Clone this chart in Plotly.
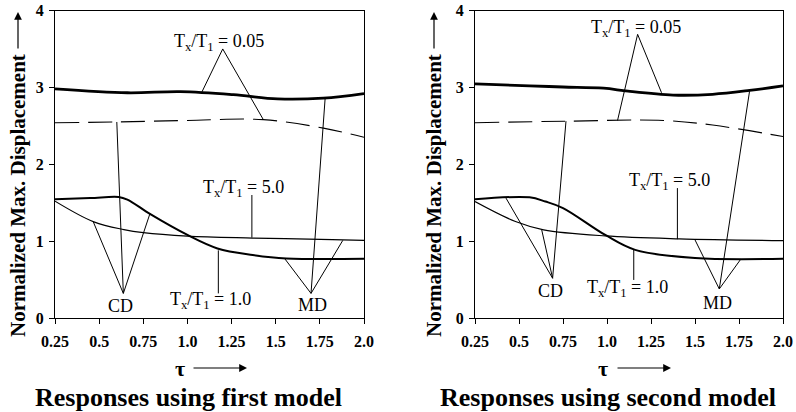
import plotly.graph_objects as go

# ---- response curves, first model ----
m1_x_top = [0.25, 0.66, 0.96, 1.26, 1.51, 1.77, 2.0]
m1_y_top = [2.98, 2.93, 2.945, 2.905, 2.85, 2.86, 2.92]
m1_x_dash = [0.25, 0.60, 1.00, 1.43, 1.77, 2.0]
m1_y_dash = [2.54, 2.55, 2.57, 2.58, 2.47, 2.35]
m1_x_one = [0.25, 0.45, 0.61, 0.66, 0.79, 1.0, 1.17, 1.37, 1.56, 2.0]
m1_y_one = [1.545, 1.56, 1.575, 1.54, 1.35, 1.08, 0.905, 0.82, 0.775, 0.77]
m1_x_five = [0.25, 0.47, 0.64, 0.75, 1.0, 1.37, 1.82, 2.0]
m1_y_five = [1.52, 1.25, 1.15, 1.11, 1.065, 1.04, 1.02, 1.01]

# ---- response curves, second model ----
m2_x_top = [0.25, 0.56, 0.75, 0.98, 1.12, 1.375, 1.6, 1.81, 2.0]
m2_y_top = [3.045, 3.02, 3.005, 2.99, 2.95, 2.90, 2.91, 2.96, 3.02]
m2_x_dash = [0.25, 0.77, 1.32, 1.6, 2.0]
m2_y_dash = [2.54, 2.56, 2.57, 2.51, 2.36]
m2_x_one = [0.25, 0.56, 0.65, 0.75, 0.99, 1.16, 1.5, 2.0]
m2_y_one = [1.545, 1.57, 1.515, 1.43, 1.08, 0.886, 0.78, 0.77]
m2_x_five = [0.25, 0.48, 0.64, 0.99, 1.41, 2.0]
m2_y_five = [1.515, 1.255, 1.147, 1.068, 1.03, 1.007]

x_ticks = [0.25, 0.5, 0.75, 1.0, 1.25, 1.5, 1.75, 2.0]
x_tick_text = ["0.25", "0.5", "0.75", "1.0", "1.25", "1.5", "1.75", "2.0"]
y_ticks = [0, 1, 2, 3, 4]
y_tick_text = ["0", "1", "2", "3", "4"]

ratio_low = "T<sub>x</sub>/T<sub>1</sub> = 0.05"
ratio_one = "T<sub>x</sub>/T<sub>1</sub> = 1.0"
ratio_high = "T<sub>x</sub>/T<sub>1</sub> = 5.0"
panel_titles = ["Responses using first model", "Responses using second model"]

# label anchors and leader lines (data coordinates): (text pos, apex, [ends])
m1_labels = {
    "low": ((1.18, 3.58), (1.20, 3.50), [(1.082, 2.94), (1.43, 2.58)]),
    "cd": ((0.62, 0.15), (0.637, 0.32), [(0.60, 2.55), (0.467, 1.25), (0.788, 1.36)]),
    "md": ((1.71, 0.17), (1.70, 0.32), [(1.78, 2.86), (1.55, 0.775), (1.88, 1.01)]),
    "high": ((1.315, 1.68), (1.365, 1.60), [(1.365, 1.045)]),
    "one": ((1.13, 0.23), (1.175, 0.32), [(1.175, 0.88)]),
}
m2_labels = {
    "low": ((1.165, 3.76), (1.174, 3.69), [(1.06, 2.57), (1.31, 2.93)]),
    "cd": ((0.68, 0.35), (0.691, 0.517), [(0.767, 2.56), (0.426, 1.56), (0.629, 1.147)]),
    "md": ((1.63, 0.19), (1.638, 0.378), [(1.81, 2.95), (1.50, 1.016), (1.76, 0.765)]),
    "high": ((1.354, 1.776), (1.40, 1.69), [(1.40, 1.025)]),
    "one": ((1.117, 0.387), (1.152, 0.495), [(1.152, 0.886)]),
}
label_text = {"low": ratio_low, "cd": "CD", "md": "MD", "high": ratio_high, "one": ratio_one}

W, H = 796, 412
SERIF = "Liberation Serif, Times New Roman, serif"

fig = go.Figure()


def add_panel(n, xt, yt, xd, yd, xo, yo, xf, yf, labels):
    xa, ya = ("x", "y") if n == 1 else ("x2", "y2")
    kw = dict(mode="lines", xaxis=xa, yaxis=ya, showlegend=False, hoverinfo="skip")
    fig.add_trace(go.Scatter(x=xt, y=yt, line=dict(color="black", width=2.8, shape="spline"), **kw))
    fig.add_trace(go.Scatter(x=xd, y=yd, line=dict(color="black", width=1.1, dash="24px,9px", shape="spline"), **kw))
    fig.add_trace(go.Scatter(x=xo, y=yo, line=dict(color="black", width=2.0, shape="spline"), **kw))
    fig.add_trace(go.Scatter(x=xf, y=yf, line=dict(color="black", width=1.2, shape="spline"), **kw))
    for key, (pos, apex, ends) in labels.items():
        for ex, ey in ends:
            fig.add_trace(go.Scatter(x=[apex[0], ex], y=[apex[1], ey],
                                     line=dict(color="black", width=1), **kw))
        fig.add_annotation(x=pos[0], y=pos[1], xref=xa, yref=ya, text=label_text[key],
                           showarrow=False, xanchor="center", yanchor="middle",
                           font=dict(family=SERIF, size=18, color="black"))


add_panel(1, m1_x_top, m1_y_top, m1_x_dash, m1_y_dash, m1_x_one, m1_y_one,
          m1_x_five, m1_y_five, m1_labels)
add_panel(2, m2_x_top, m2_y_top, m2_x_dash, m2_y_dash, m2_x_one, m2_y_one,
          m2_x_five, m2_y_five, m2_labels)

xdom = [[55 / W, 364 / W], [475 / W, 783 / W]]
ydom = [1 - 318 / H, 1 - 10.5 / H]

axis_common = dict(showgrid=False, zeroline=False, showline=True, linecolor="black",
                   linewidth=1.3, mirror=True, ticks="outside", ticklen=5,
                   tickcolor="black", tickwidth=1.2, automargin=False,
                   tickfont=dict(family=SERIF, size=16, color="black"))
for i in (1, 2):
    sfx = "" if i == 1 else str(i)
    fig.update_layout(**{
        "xaxis" + sfx: dict(domain=xdom[i - 1], range=[0.25, 2.0], tickvals=x_ticks,
                            ticktext=["<b>%s</b>" % t for t in x_tick_text],
                            ticklabelstandoff=4, anchor="y" + sfx, **axis_common),
        "yaxis" + sfx: dict(domain=ydom, range=[0, 4], tickvals=y_ticks,
                            ticktext=["<b>%s</b>" % t for t in y_tick_text],
                            ticklabelstandoff=2, anchor="x" + sfx, **axis_common),
    })


# axis titles, panel captions and arrows (pixel placement)
def px(x):
    return x / W


def py(y):
    return 1 - y / H


for ytx, tx, ax0, ax1 in [(18, 180, 192, 247), (434, 603, 616, 671)]:
    fig.add_annotation(x=px(ytx), y=py(196), xref="paper", yref="paper",
                       text="<b>Normalized Max. Displacement</b>", textangle=-90,
                       xanchor="center", yanchor="middle",
                       showarrow=False, font=dict(family=SERIF, size=21, color="black"))
    fig.add_annotation(x=px(ytx), y=py(12), xref="paper", yref="paper", ax=0, ay=38,
                       text="", showarrow=True, arrowhead=2, arrowsize=1.3,
                       arrowwidth=1.2, arrowcolor="black")
    fig.add_annotation(x=px(tx), y=py(368), xref="paper", yref="paper", text="<b>τ</b>",
                       xanchor="center", yanchor="middle",
                       showarrow=False, font=dict(family=SERIF, size=22, color="black"))
    fig.add_annotation(x=px(ax1), y=py(368), xref="paper", yref="paper",
                       ax=-(ax1 - ax0), ay=0, text="", showarrow=True, arrowhead=2,
                       arrowsize=1.3, arrowwidth=1.2, arrowcolor="black")

for title, cap_x in zip(panel_titles, [188, 608]):
    fig.add_annotation(x=px(cap_x), y=py(397), xref="paper", yref="paper",
                       text="<b>%s</b>" % title, showarrow=False,
                       xanchor="center", yanchor="middle",
                       font=dict(family=SERIF, size=26, color="black"))

fig.update_layout(template="none", width=W, height=H,
                  margin=dict(l=0, r=0, t=0, b=0, pad=0, autoexpand=False),
                  font=dict(family=SERIF, color="black"),
                  paper_bgcolor="white", plot_bgcolor="white", showlegend=False)

fig.write_html("out.html")
